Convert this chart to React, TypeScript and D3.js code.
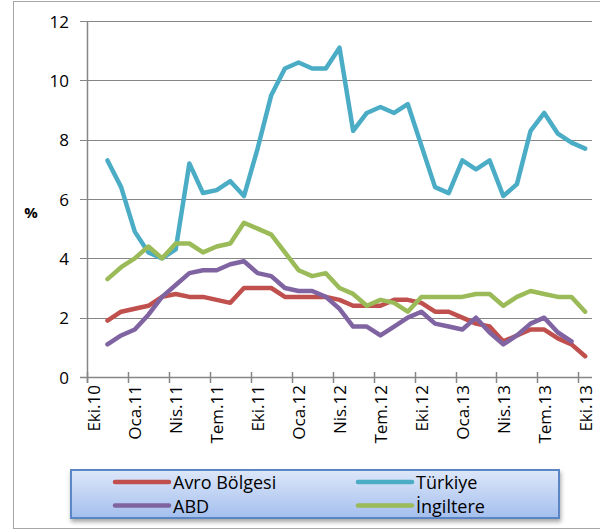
import * as d3 from 'd3'
import { FC, useEffect } from 'react'

const WIDTH = 600
const HEIGHT = 531
const PLOT = { left: 87, right: 592, top: 21, bottom: 377 }

const months = [
  'Eki.10', 'Kas.10', 'Ara.10',
  'Oca.11', 'Şub.11', 'Mar.11', 'Nis.11', 'May.11', 'Haz.11', 'Tem.11', 'Ağu.11', 'Eyl.11', 'Eki.11', 'Kas.11', 'Ara.11',
  'Oca.12', 'Şub.12', 'Mar.12', 'Nis.12', 'May.12', 'Haz.12', 'Tem.12', 'Ağu.12', 'Eyl.12', 'Eki.12', 'Kas.12', 'Ara.12',
  'Oca.13', 'Şub.13', 'Mar.13', 'Nis.13', 'May.13', 'Haz.13', 'Tem.13', 'Ağu.13', 'Eyl.13', 'Eki.13',
]

const avroBolgesi = [null, 1.9, 2.2, 2.3, 2.4, 2.7, 2.8, 2.7, 2.7, 2.6, 2.5, 3.0, 3.0, 3.0, 2.7, 2.7, 2.7, 2.7, 2.6, 2.4, 2.4, 2.4, 2.6, 2.6, 2.5, 2.2, 2.2, 2.0, 1.8, 1.7, 1.2, 1.4, 1.6, 1.6, 1.3, 1.1, 0.7]
const turkiye = [null, 7.3, 6.4, 4.9, 4.2, 4.0, 4.3, 7.2, 6.2, 6.3, 6.6, 6.1, 7.7, 9.5, 10.4, 10.6, 10.4, 10.4, 11.1, 8.3, 8.9, 9.1, 8.9, 9.2, 7.8, 6.4, 6.2, 7.3, 7.0, 7.3, 6.1, 6.5, 8.3, 8.9, 8.2, 7.9, 7.7]
const abd = [null, 1.1, 1.4, 1.6, 2.1, 2.7, 3.1, 3.5, 3.6, 3.6, 3.8, 3.9, 3.5, 3.4, 3.0, 2.9, 2.9, 2.7, 2.3, 1.7, 1.7, 1.4, 1.7, 2.0, 2.2, 1.8, 1.7, 1.6, 2.0, 1.5, 1.1, 1.4, 1.8, 2.0, 1.5, 1.2, null]
const ingiltere = [null, 3.3, 3.7, 4.0, 4.4, 4.0, 4.5, 4.5, 4.2, 4.4, 4.5, 5.2, 5.0, 4.8, 4.2, 3.6, 3.4, 3.5, 3.0, 2.8, 2.4, 2.6, 2.5, 2.2, 2.7, 2.7, 2.7, 2.7, 2.8, 2.8, 2.4, 2.7, 2.9, 2.8, 2.7, 2.7, 2.2]

const yTicks = [0, 2, 4, 6, 8, 10, 12]

const series = [
  { name: 'Avro Bölgesi', values: avroBolgesi, color: '#c0504d' },
  { name: 'Türkiye', values: turkiye, color: '#4bacc6' },
  { name: 'ABD', values: abd, color: '#8064a2' },
  { name: 'İngiltere', values: ingiltere, color: '#9bbb59' },
]

const FONT = '"Open Sans", "Liberation Sans", sans-serif'
const AXIS_GRAY = '#868686'

const App: FC = () => {
  useEffect(() => {
    document.body.style.margin = '0'
  }, [])

  const xScale = d3.scaleBand<string>().domain(months).range([PLOT.left, PLOT.right])
  const yScale = d3.scaleLinear().domain([0, 12]).range([PLOT.bottom, PLOT.top])
  const bw = xScale.bandwidth()
  const cx = (i: number) => (xScale(months[i]) as number) + bw / 2

  const line = d3
    .line<number | null>()
    .defined((d) => d != null)
    .x((_, i) => cx(i))
    .y((d) => yScale(d as number))

  // tick marks every 3 categories, labels in the middle of the category
  const tickIdx = d3.range(0, months.length + 1, 3)
  const labelIdx = d3.range(0, months.length, 3)

  const crisp = (v: number) => Math.round(v) + 0.5

  return (
    <svg width={ WIDTH } height={ HEIGHT } style={{ display: 'block' }} fontFamily={ FONT }>
      <defs>
        <linearGradient id='legendFill' x1='0' y1='0' x2='0' y2='1'>
          <stop offset='0%' stopColor='#dde7f9' />
          <stop offset='100%' stopColor='#a4bfee' />
        </linearGradient>
        <filter id='legendShadow' x='-5%' y='-20%' width='110%' height='150%'>
          <feDropShadow dx='1' dy='3' stdDeviation='2' floodColor='#000' floodOpacity='0.35' />
        </filter>
      </defs>

      <rect x={ 13.5 } y={ 1.5 } width={ 600 } height={ 527 } fill='white' stroke='#a6a6a6' strokeWidth={ 1 } />

      {/* grid lines */}
      { yTicks.slice(1).map((t) => (
        <line
          key={ t }
          x1={ PLOT.left - 7 }
          x2={ PLOT.right }
          y1={ crisp(yScale(t)) }
          y2={ crisp(yScale(t)) }
          stroke={ AXIS_GRAY }
          strokeWidth={ 1.2 }
        />
      )) }

      {/* y axis */}
      <line x1={ crisp(PLOT.left) } x2={ crisp(PLOT.left) } y1={ PLOT.top } y2={ PLOT.bottom + 6 } stroke={ AXIS_GRAY } strokeWidth={ 1.5 } />
      { yTicks.map((t) => (
        <text
          key={ t }
          x={ 69 }
          y={ yScale(t) }
          textAnchor='end'
          dominantBaseline='central'
          fontSize={ 17 }
          fill='#000'
        >
          { t }
        </text>
      )) }
      <text x={ 31 } y={ 212 } textAnchor='middle' dominantBaseline='central' fontSize={ 15 } fontWeight='bold'>%</text>

      {/* x axis */}
      <line x1={ PLOT.left - 7 } x2={ PLOT.right } y1={ crisp(PLOT.bottom) } y2={ crisp(PLOT.bottom) } stroke={ AXIS_GRAY } strokeWidth={ 1.5 } />
      { tickIdx.map((i) => {
        const x = crisp(PLOT.left + i * bw)
        return <line key={ i } x1={ x } x2={ x } y1={ PLOT.bottom - 5 } y2={ PLOT.bottom + 6 } stroke={ AXIS_GRAY } strokeWidth={ 1.5 } />
      }) }
      { labelIdx.map((i) => (
        <text
          key={ i }
          transform={ `translate(${cx(i)},${PLOT.bottom + 8}) rotate(-90)` }
          textAnchor='end'
          dominantBaseline='central'
          fontSize={ 17 }
          fill='#000'
        >
          { months[i] }
        </text>
      )) }

      {/* series */}
      { series.map((s) => (
        <path
          key={ s.name }
          d={ line(s.values) as string }
          fill='none'
          stroke={ s.color }
          strokeWidth={ 4.5 }
          strokeLinejoin='round'
          strokeLinecap='round'
        />
      )) }

      {/* legend */}
      <rect x={ 71 } y={ 470 } width={ 488 } height={ 48 } fill='url(#legendFill)' stroke='#5a86c6' strokeWidth={ 2 } filter='url(#legendShadow)' />
      { series.map((s, i) => {
        const col = i % 2
        const row = Math.floor(i / 2)
        const x0 = col === 0 ? 115 : 358
        const y0 = 482 + row * 23.5
        return (
          <g key={ s.name }>
            <line x1={ x0 } x2={ x0 + 54 } y1={ y0 } y2={ y0 } stroke={ s.color } strokeWidth={ 4.5 } strokeLinecap='round' />
            <text x={ x0 + 58 } y={ y0 } dominantBaseline='central' fontSize={ 18 } fill='#000'>{ s.name }</text>
          </g>
        )
      }) }
    </svg>
  )
}

export default App
